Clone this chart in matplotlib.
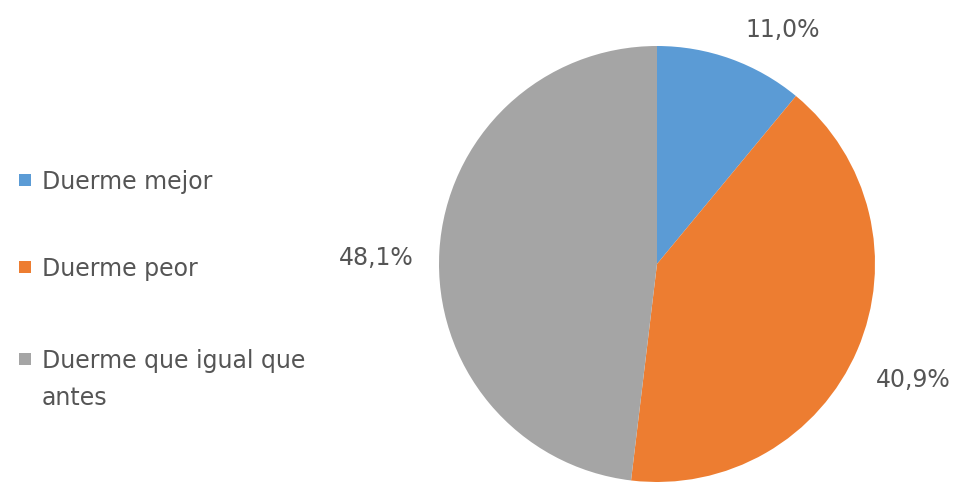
import numpy as np
import matplotlib
matplotlib.use("Agg")
import matplotlib.pyplot as plt
from matplotlib.patches import Rectangle

# Datos de la encuesta
categorias = ["Duerme mejor", "Duerme peor", "Duerme que igual que\nantes"]
porcentajes = [11.0, 40.9, 48.1]
colores = ["#5B9BD5", "#ED7D31", "#A5A5A5"]

plt.rcParams["font.family"] = ["DejaVu Sans"]
gris_texto = "#555555"
tam = 17

W, H = 957, 482
fig = plt.figure(figsize=(W / 100, H / 100), dpi=100)
ax = fig.add_axes([0, 0, 1, 1])

centro = (657, 218)
radio = 218
wedges, _ = ax.pie(porcentajes, colors=colores, startangle=90, counterclock=False,
                   center=centro, radius=radio, frame=True,
                   wedgeprops=dict(linewidth=0))
ax.set_xlim(0, W)
ax.set_ylim(0, H)
ax.set_aspect("equal")
ax.axis("off")

# Etiquetas de porcentaje fuera de cada sector
dist_etiqueta = [1.22, 1.29, 1.29]
ajuste_angulo = [-8.5, -1.2, 2.2]
for w, v, d, da in zip(wedges, porcentajes, dist_etiqueta, ajuste_angulo):
    ang = np.deg2rad((w.theta1 + w.theta2) / 2 + da)
    x = centro[0] + d * radio * np.cos(ang)
    y = centro[1] + d * radio * np.sin(ang)
    ax.text(x, y, f"{v:.1f}".replace(".", ",") + "%", ha="center", va="center",
            fontsize=tam, color=gris_texto)

# Leyenda a la izquierda (una fila por categoría)
filas_y = [302, 215, 123]
paso_linea = 37
media_mayus = 8.6
for cat, col, y in zip(categorias, colores, filas_y):
    ax.add_patch(Rectangle((19, y - 6), 12, 12, facecolor=col, edgecolor="none"))
    for i, linea in enumerate(cat.split("\n")):
        ax.text(42, y - media_mayus - i * paso_linea, linea, ha="left",
                va="baseline", fontsize=tam, color=gris_texto)

fig.savefig("out.png", dpi=100)
